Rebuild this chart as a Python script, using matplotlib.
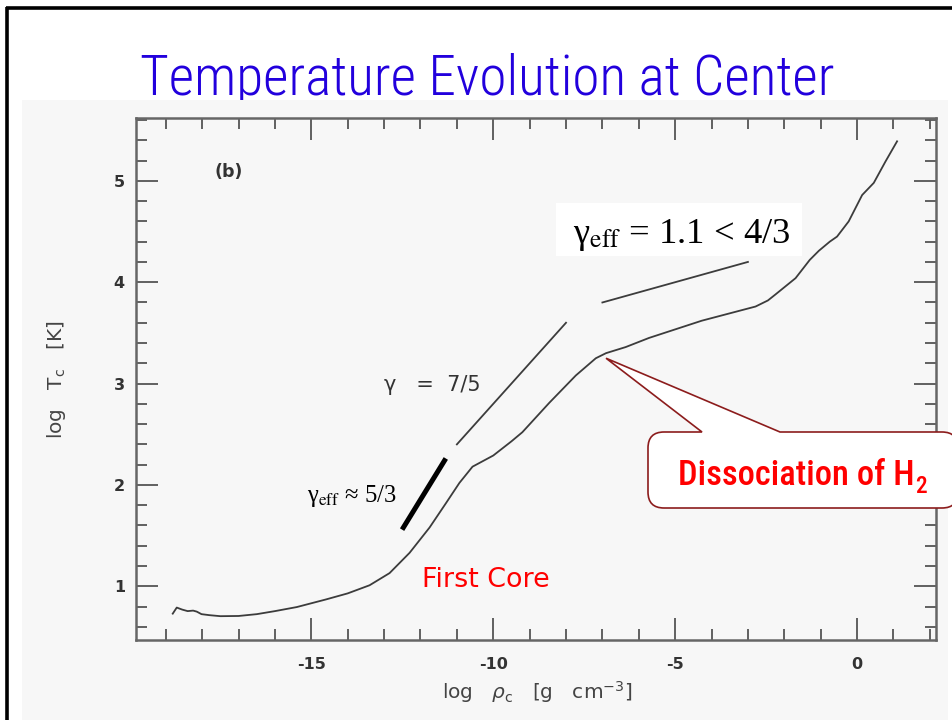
import os
import matplotlib
matplotlib.use('Agg')
import matplotlib.pyplot as plt
from matplotlib import font_manager
from matplotlib.font_manager import FontProperties
from matplotlib.path import Path
from matplotlib.patches import PathPatch, Rectangle
from matplotlib.ticker import MultipleLocator, FixedLocator

# ---------------- data ----------------
log_rho = [-18.81, -18.70, -18.55, -18.40, -18.25, -18.15, -18.02, -17.80, -17.50,
           -17.00, -16.50, -16.00, -15.40, -14.60, -14.00, -13.40, -12.85, -12.30,
           -11.75, -11.30, -10.93, -10.57, -10.00, -9.50, -9.20, -8.46, -7.73,
           -7.18, -6.90, -6.36, -5.72, -4.27, -2.79, -2.45, -2.24, -1.69, -1.30,
           -1.05, -0.75, -0.55, -0.23, 0.14, 0.46, 0.78, 1.10]
log_T = [0.73, 0.79, 0.77, 0.755, 0.76, 0.75, 0.725, 0.715, 0.705,
         0.707, 0.725, 0.755, 0.795, 0.87, 0.93, 1.01, 1.13, 1.33,
         1.58, 1.82, 2.02, 2.18, 2.29, 2.43, 2.52, 2.81, 3.08,
         3.25, 3.30, 3.36, 3.45, 3.62, 3.76, 3.82, 3.88, 4.04, 4.22,
         4.31, 4.40, 4.45, 4.60, 4.86, 4.98, 5.19, 5.39]

gamma_iso_x = [-7.0, -3.0]      # gamma_eff = 1.1
gamma_iso_y = [3.8, 4.2]
gamma_75_x = [-11.0, -8.0]      # gamma = 7/5
gamma_75_y = [2.4, 3.6]
gamma_53_x = [-12.47, -11.34]   # gamma_eff ~ 5/3
gamma_53_y = [1.58, 2.24]

x_major = [-15, -10, -5, 0]
x_major_labels = ['-15', '-10', '-5', '0']
y_major = [1, 2, 3, 4, 5]
x_limits = (-19.82, 2.17)
y_limits = (0.47, 5.62)

dissoc_point = (-6.9, 3.25)


# ---------------- fonts ----------------
def find_condensed():
    entries = font_manager.fontManager.ttflist
    bad = ('Bold', 'Italic', 'Oblique', 'Light', 'Thin', 'Black', 'Medium', 'Semi', 'Extra', 'Heavy')
    prefs = ['Liberation Sans Narrow', 'Arial Narrow', 'Roboto Condensed',
             'Open Sans Condensed', 'Noto Sans Condensed', 'DejaVu Sans Condensed']

    def ok(f):
        base = f.fname.rsplit('/', 1)[-1]
        return not any(b in base.replace('Condensed', '').replace('Narrow', '') for b in bad)
    for p in prefs:
        for f in entries:
            if f.name == p and ok(f):
                return f
    for f in entries:
        base = f.fname.rsplit('/', 1)[-1]
        if ('Condensed' in base or 'Narrow' in base) and 'Sans' in base and ok(f):
            return f
    return None


def weight_variant(entry, lo, hi, target):
    best = None
    for f in font_manager.fontManager.ttflist:
        if f.name != entry.name or f.style != 'normal' or f.stretch != entry.stretch:
            continue
        w = f.weight if isinstance(f.weight, int) else 400
        if lo <= w <= hi and (best is None or abs(w - target) < abs(best[0] - target)):
            best = (w, f.fname)
    return best[1] if best else entry.fname


cond = find_condensed()
if cond is not None:
    title_fp = FontProperties(fname=weight_variant(cond, 250, 399, 300))
    call_fp = FontProperties(fname=weight_variant(cond, 400, 600, 500))
else:
    title_fp = FontProperties(family='Liberation Sans')
    call_fp = FontProperties(family='Liberation Sans')

W, H = 953, 720
fig = plt.figure(figsize=(W / 100, H / 100), dpi=100)
fig.patch.set_facecolor('white')
renderer = fig.canvas.get_renderer()


def fit_width(t, target):
    bb = t.get_window_extent(renderer)
    t.set_fontsize(t.get_fontsize() * target / bb.width)


# ---------------- slide background ----------------
bg = fig.add_axes([0, 0, 1, 1], zorder=0)
bg.set_xlim(0, W)
bg.set_ylim(H, 0)
bg.axis('off')
title = bg.text(487, 95, 'Temperature Evolution at Center', ha='center', va='baseline',
                fontproperties=title_fp.copy(), color='#2200dd', zorder=1)
title.set_fontsize(40)
fit_width(title, 693)
bg.add_patch(Rectangle((22, 100), 926, 630, facecolor='#f7f7f7', edgecolor='none', zorder=2))
bg.plot([7, 7], [7, H], color='black', lw=2.6, zorder=3, solid_capstyle='butt')
bg.plot([6, W], [8, 8], color='black', lw=2.6, zorder=3, solid_capstyle='butt')

# ---------------- main plot ----------------
ax = fig.add_axes([136 / W, 1 - 640 / H, 800 / W, 522 / H], zorder=1)
ax.set_facecolor('#f7f7f7')
ax.set_xlim(*x_limits)
ax.set_ylim(*y_limits)

curve_col = '#3c3c3c'
ax.plot(log_rho, log_T, color=curve_col, lw=1.3)
ax.plot(gamma_iso_x, gamma_iso_y, color=curve_col, lw=1.3)
ax.plot(gamma_75_x, gamma_75_y, color=curve_col, lw=1.3)
ax.plot(gamma_53_x, gamma_53_y, color='black', lw=3.6)

ax.xaxis.set_major_locator(FixedLocator(x_major))
ax.xaxis.set_minor_locator(MultipleLocator(1))
ax.yaxis.set_major_locator(FixedLocator(y_major))
ax.yaxis.set_minor_locator(MultipleLocator(0.2))
ax.tick_params(which='both', direction='in', top=True, right=True, color='#555555', width=1.3)
ax.tick_params(which='major', length=16)
ax.tick_params(which='minor', length=8)
ax.tick_params(axis='x', which='major', pad=12)
ax.tick_params(axis='y', which='major', pad=8)
ax.set_xticklabels(x_major_labels)
for lab in ax.get_xticklabels() + ax.get_yticklabels():
    lab.set_family('DejaVu Sans')
    lab.set_fontweight('bold')
    lab.set_fontsize(11.5)
    lab.set_color('#333333')
for sp in ax.spines.values():
    sp.set_color('#666666')
    sp.set_linewidth(1.8)

ax.set_xlabel(r'log   $\rho_{\rm c}$   [g   cm$^{-3}$]', fontsize=14.5, color='#444444',
              family='DejaVu Sans', va='center', math_fontfamily='dejavusans')
ax.xaxis.set_label_coords(0.501, -0.0996)
ax.set_ylabel(r'log   T$_{\rm c}$   [K]', fontsize=14.5, color='#444444',
              family='DejaVu Sans', va='center', math_fontfamily='dejavusans')
ax.yaxis.set_label_coords(-0.099, 0.50)

ax.text(-17.27, 5.09, '(b)', ha='center', va='center', fontsize=12.5, fontweight='bold',
        color='#333333', family='DejaVu Sans')
ax.text(-12.99, 2.93, 'γ   =  7/5', ha='left', va='baseline', fontsize=15,
        color='#333333', family='DejaVu Sans')
t53 = ax.text(-15.13, 1.83, r'γ$_{\rm eff}$ ≈ 5/3', ha='left', va='baseline', fontsize=18,
              color='black', family='Liberation Serif', math_fontfamily='stix')
fit_width(t53, 90)
tfc = ax.text(-11.97, 0.99, 'First Core', ha='left', va='baseline', fontsize=18,
              color='#ff0000', family='DejaVu Sans')
fit_width(tfc, 128)

# ---------------- overlay (slide annotations) ----------------
ov = fig.add_axes([0, 0, 1, 1], zorder=3)
ov.set_xlim(0, W)
ov.set_ylim(H, 0)
ov.axis('off')
ov.patch.set_alpha(0)

ov.add_patch(Rectangle((556, 203), 246, 53, facecolor='white', edgecolor='none', zorder=1))
tiso = ov.text(573, 243, r'γ$_{\rm eff}$ = 1.1 < 4/3', ha='left', va='baseline', fontsize=26,
               color='black', family='Liberation Serif', math_fontfamily='stix', zorder=2)
fit_width(tiso, 217)

# callout pointing at the H2 dissociation kink
tx, ty = ax.transData.transform(dissoc_point)
ty = H - ty
L, T, R, B, r = 648, 432, 958, 508, 16
p1, p2 = 702, 780
verts = [(L + r, T), (p1, T), (tx, ty), (p2, T), (R - r, T),
         (R, T), (R, T + r), (R, B - r), (R, B), (R - r, B),
         (L + r, B), (L, B), (L, B - r), (L, T + r), (L, T), (L + r, T), (L + r, T)]
codes = [Path.MOVETO, Path.LINETO, Path.LINETO, Path.LINETO, Path.LINETO,
         Path.CURVE3, Path.CURVE3, Path.LINETO, Path.CURVE3, Path.CURVE3,
         Path.LINETO, Path.CURVE3, Path.CURVE3, Path.LINETO, Path.CURVE3, Path.CURVE3,
         Path.CLOSEPOLY]
ov.add_patch(PathPatch(Path(verts, codes), facecolor='white', edgecolor='#8c1c1c',
                       lw=1.2, zorder=3))
dis = ov.text(678, 485, 'Dissociation of H', ha='left', va='baseline',
              fontproperties=call_fp.copy(), color='#ff0000', zorder=4)
dis.set_fontsize(27)
fit_width(dis, 236)
bb = dis.get_window_extent(renderer)
sub = ov.text(bb.x1 + 1, 493, '2', ha='left', va='baseline',
              fontproperties=call_fp.copy(), color='#ff0000', zorder=4)
sub.set_fontsize(dis.get_fontsize() * 0.68)

fig.savefig('out.png', dpi=100, facecolor='white')
